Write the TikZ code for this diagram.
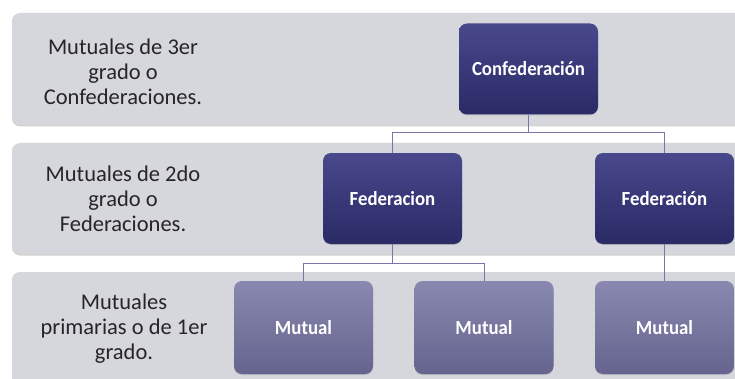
\documentclass[tikz,border=0pt]{standalone}
\usepackage{fontspec}
\setmainfont{Carlito}
\newfontfamily\levfont{Carlito}
\newfontfamily\boxfont[FakeStretch=0.94]{Carlito}
\usetikzlibrary{positioning, shadows}
\definecolor{bandgray}{RGB}{214,214,221}
\definecolor{fedtop}{RGB}{72,72,140}
\definecolor{fedbot}{RGB}{42,42,102}
\definecolor{muttop}{RGB}{136,136,176}
\definecolor{mutbot}{RGB}{100,100,142}
\definecolor{linkcol}{RGB}{118,118,168}
\tikzstyle{band} = [rectangle, rounded corners=8pt, fill=bandgray, inner sep=0pt,
    drop shadow={shadow xshift=0pt, shadow yshift=-1.5pt, opacity=0.35}]
\tikzstyle{levtext} = [text width=200pt, align=flush center, text=black!85,
    font=\levfont\fontsize{22.5}{25}\selectfont]
\tikzstyle{fed} = [rectangle, rounded corners=8pt, top color=fedtop, bottom color=fedbot,
    minimum width=139pt, minimum height=91pt, text=white, inner sep=0pt,
    font=\boxfont\bfseries\fontsize{20}{22}\selectfont,
    drop shadow={shadow xshift=0pt, shadow yshift=-1pt, opacity=0.3}]
\tikzstyle{mutual} = [fed, top color=muttop, bottom color=mutbot, minimum height=93pt]
\tikzstyle{line} = [draw, linkcol, line width=0.8pt]

\begin{document}
\begin{tikzpicture}[x=1pt, y=1pt, node distance=129pt]
\useasboundingbox (0,0) rectangle (735,378);
\clip (0,0) rectangle (735,378);
\fill[white] (0,0) rectangle (735,378);
% levels
\node [band, minimum width=740pt, minimum height=112pt] (band1) at (382,309) {};
\node [band, minimum width=740pt, minimum height=111pt] (band2) at (382,179.5) {};
\node [band, minimum width=740pt, minimum height=118pt] (band3) at (382,47) {};
\node [levtext] (lev1) at (123,306) {Mutuales de 3er\\grado o\\Confederaciones.};
\node [levtext] (lev2) at (123,179) {Mutuales de 2do\\grado o\\Federaciones.};
\node [levtext] (lev3) at (124,49) {Mutuales\\primarias o de 1er\\grado.};
% boxes
\node [fed] (confed) at (528.5,309) {Confederación};
\node [fed] (fed1) at (392.5,179.5) {Federacion};
\node [fed, right of=fed1, node distance=272pt] (fed2) {Federación};
\node [mutual, below of=fed2] (mut3) {Mutual};
\node [mutual, left of=mut3, node distance=180.5pt] (mut2) {Mutual};
\node [mutual, left of=mut2, node distance=180.5pt] (mut1) {Mutual};

  \path [line] (confed.south) -- ++(0,-18) -| (fed1.north);
  \path [line] (confed.south) -- ++(0,-18) -| (fed2.north);
  \path [line] (fed1.south) -- ++(0,-19) -| (mut1.north);
  \path [line] (fed1.south) -- ++(0,-19) -| (mut2.north);
  \path [line] (fed2) -- (mut3);

\end{tikzpicture}
\end{document}
